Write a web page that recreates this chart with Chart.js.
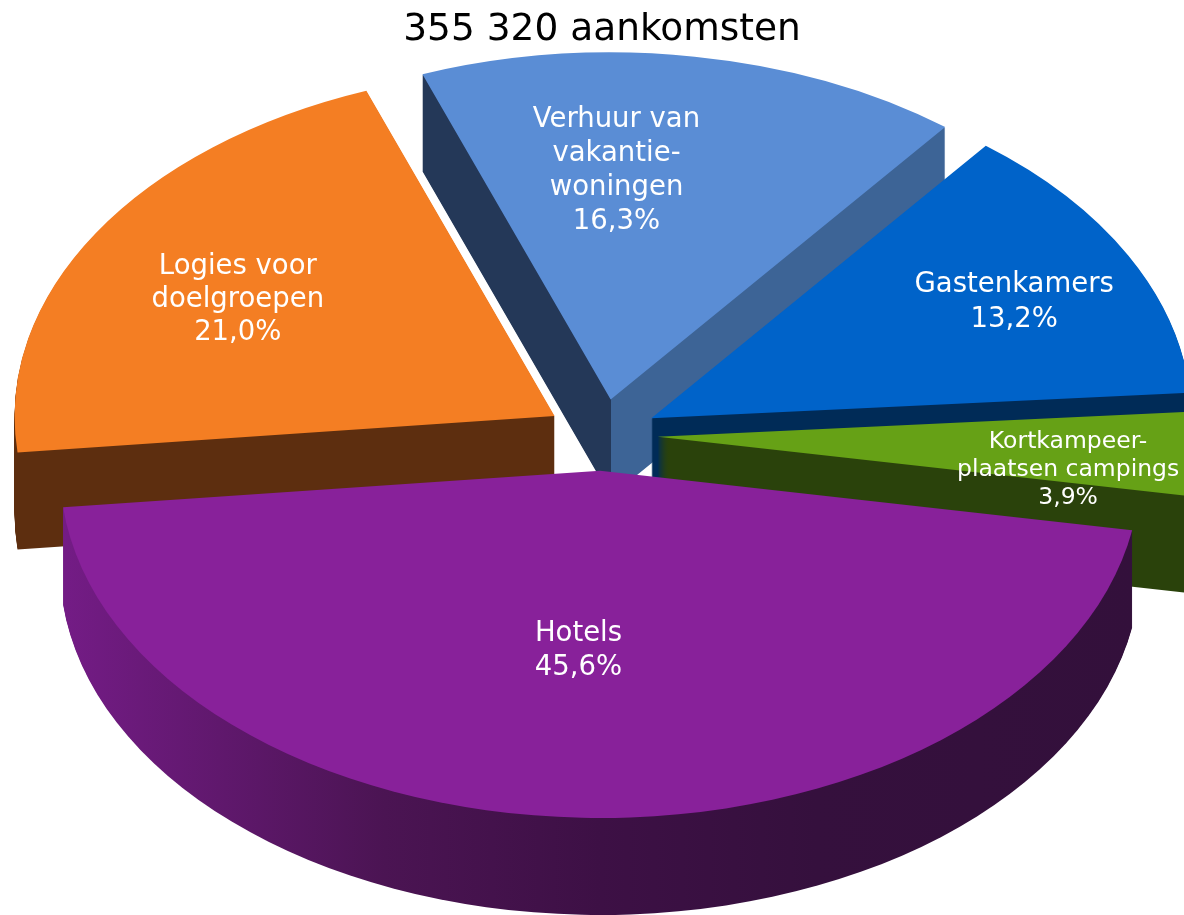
<!DOCTYPE html>
<html><head><meta charset="utf-8">
<script src="https://cdn.jsdelivr.net/npm/chart.js@4.4.1/dist/chart.umd.min.js"></script>
<style>html,body{margin:0;padding:0;background:#fff;}#wrap{width:1184px;height:915px;}</style>
</head><body><div id="wrap"><canvas id="c" width="1184" height="915"></canvas></div>
<script>
// ---- data ----
const chartTitle = '355 320 aankomsten';
const categories = ['Verhuur van vakantiewoningen', 'Gastenkamers', 'Kortkampeerplaatsen campings', 'Hotels', 'Logies voor doelgroepen'];
const labelLines = [['Verhuur van', 'vakantie-', 'woningen'], ['Gastenkamers'], ['Kortkampeer-', 'plaatsen campings'], ['Hotels'], ['Logies voor', 'doelgroepen']];
const shares = [16.3, 13.2, 3.9, 45.6, 21.0];

// ---- styles ----
const topColors = ['#5A8DD5', '#0063C9', '#66A116', '#88219A', '#F47E23'];
const sideStops = [
  [[0, '#243858'], [0.5, '#243858'], [0.5, '#3D6496'], [1, '#3D6496']],
  [[0, '#002B57'], [1, '#002B57']],
  [[0, '#2A420B'], [1, '#2A420B']],
  [[0, '#741C86'], [0.3, '#4B1453'], [0.5, '#3D1045'], [0.7, '#35103D'], [1, '#33103B']],
  [[0, '#5D2E0F'], [1, '#5D2E0F']]
];
const labelShift = [-8, 1.6, 4.4, 2.5, -2];      // degrees
const labelFrac = [0.658, 0.75, 0.766, 0.52, 0.676];
const labelSize = [27.5, 27.5, 23.5, 27.5, 27.5];
const labelLH = [34, 35, 28, 34, 33];
const R = 300, SX = 1.8, SY = 1.157, EXPLODE = 31, DEPTH = 97;

const pie3d = {
  id: 'pie3d',
  beforeDatasetsDraw(chart) {
    const ctx = chart.ctx;
    const arcs = chart.getDatasetMeta(0).data;
    const cx = arcs[0].x, cy = arcs[0].y;
    const mids = arcs.map(a => (a.startAngle + a.endAngle) / 2);
    const order = arcs.map((a, i) => i).sort((a, b) => Math.sin(mids[a]) - Math.sin(mids[b]));
    const drawArc = (i, dy, side) => {
      const a = arcs[i], m = mids[i];
      ctx.save();
      ctx.translate(0, dy);
      ctx.translate(cx, cy); ctx.scale(SX, SY); ctx.translate(-cx, -cy);
      ctx.translate(Math.cos(m) * EXPLODE, Math.sin(m) * EXPLODE);
      let fill = topColors[i];
      if (side) {
        const g = ctx.createLinearGradient(cx - a.outerRadius, 0, cx + a.outerRadius, 0);
        sideStops[i].forEach(s => g.addColorStop(s[0], s[1]));
        fill = g;
      }
      const o = a.options;
      a.options = Object.assign({}, o, {backgroundColor: fill, borderColor: fill, borderWidth: 0, offset: 0});
      a.draw(ctx);
      a.options = o;
      ctx.restore();
    };
    order.forEach(i => { for (let d = DEPTH; d >= 1; d--) drawArc(i, d, true); });
    order.forEach(i => drawArc(i, 0, false));
    // labels
    ctx.save();
    ctx.fillStyle = '#ffffff';
    ctx.textAlign = 'center';
    ctx.textBaseline = 'middle';
    arcs.forEach((a, i) => {
      const m = mids[i];
      const t = m + labelShift[i] * Math.PI / 180;
      const lx = Math.cos(m) * EXPLODE + Math.cos(t) * labelFrac[i] * a.outerRadius;
      const ly = Math.sin(m) * EXPLODE + Math.sin(t) * labelFrac[i] * a.outerRadius;
      const px = cx + lx * SX, py = cy + ly * SY;
      const lines = labelLines[i].concat([shares[i].toFixed(1).replace('.', ',') + '%']);
      ctx.font = labelSize[i] + 'px "DejaVu Sans"';
      const h = labelLH[i];
      lines.forEach((ln, k) => ctx.fillText(ln, px, py + (k - (lines.length - 1) / 2) * h));
    });
    ctx.restore();
    return false;
  }
};

new Chart(document.getElementById('c'), {
  type: 'pie',
  data: {labels: categories, datasets: [{data: shares, backgroundColor: topColors, borderWidth: 0}]},
  options: {
    responsive: false,
    animation: false,
    rotation: -20.4,
    radius: R,
    layout: {padding: {left: 20, right: 0, top: 0, bottom: 98}},
    plugins: {
      legend: {display: false},
      tooltip: {enabled: false},
      title: {display: true, text: chartTitle, color: '#000000',
        font: {family: 'DejaVu Sans', size: 37.5, weight: 'normal'}, padding: {top: 8, bottom: 0}}
    }
  },
  plugins: [pie3d]
});
</script></body></html>
